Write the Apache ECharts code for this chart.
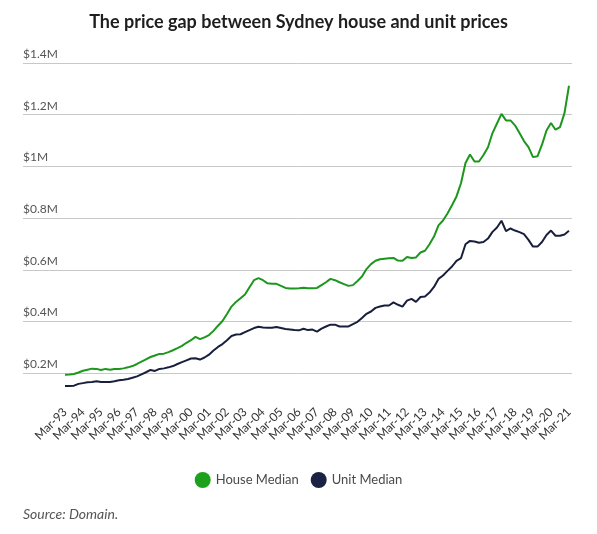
<!DOCTYPE html>
<html>
<head>
<meta charset="utf-8">
<script src="https://cdn.jsdelivr.net/npm/echarts@6/dist/echarts.min.js"></script>
<style>
html,body{margin:0;padding:0;background:#fff;}
#chart{width:597px;height:534px;}
</style>
</head>
<body>
<div id="chart"></div>
<script>
// Year tick labels (one per March quarter, Mar-93 .. Mar-21)
var xTickLabels = ['Mar-93','Mar-94','Mar-95','Mar-96','Mar-97','Mar-98','Mar-99','Mar-00','Mar-01','Mar-02','Mar-03','Mar-04','Mar-05','Mar-06','Mar-07','Mar-08','Mar-09','Mar-10','Mar-11','Mar-12','Mar-13','Mar-14','Mar-15','Mar-16','Mar-17','Mar-18','Mar-19','Mar-20','Mar-21'];

// Quarterly medians in $ millions, Mar-93 .. Mar-21
var houseMedian = [
0.194,0.195,0.197,0.203,0.210,0.214,0.218,0.217,0.213,0.217,0.214,0.217,0.217,0.219,0.223,0.228,
0.236,0.245,0.254,0.263,0.269,0.275,0.276,0.282,0.289,0.297,0.306,0.318,0.328,0.341,0.332,0.339,
0.348,0.364,0.384,0.402,0.429,0.458,0.476,0.490,0.505,0.533,0.560,0.568,0.560,0.548,0.546,0.546,
0.538,0.530,0.528,0.528,0.529,0.531,0.529,0.529,0.530,0.541,0.552,0.565,0.560,0.552,0.545,0.538,
0.541,0.557,0.574,0.603,0.622,0.635,0.641,0.643,0.645,0.646,0.636,0.635,0.650,0.646,0.648,0.667,
0.674,0.699,0.729,0.772,0.791,0.818,0.850,0.884,0.935,1.013,1.046,1.019,1.019,1.044,1.074,1.129,
1.166,1.203,1.178,1.178,1.159,1.129,1.098,1.075,1.036,1.039,1.084,1.139,1.168,1.142,1.152,1.206,
1.312];
var unitMedian = [
0.151,0.151,0.152,0.159,0.162,0.165,0.166,0.169,0.166,0.166,0.166,0.169,0.173,0.175,0.178,0.183,
0.188,0.196,0.204,0.213,0.209,0.217,0.219,0.223,0.228,0.236,0.243,0.250,0.257,0.258,0.253,0.261,
0.272,0.288,0.302,0.313,0.328,0.344,0.350,0.351,0.359,0.367,0.375,0.380,0.377,0.376,0.376,0.379,
0.375,0.371,0.369,0.367,0.366,0.372,0.367,0.369,0.361,0.373,0.381,0.388,0.388,0.381,0.381,0.381,
0.390,0.399,0.414,0.430,0.439,0.453,0.458,0.462,0.462,0.474,0.465,0.458,0.481,0.488,0.476,0.495,
0.497,0.512,0.534,0.565,0.578,0.596,0.613,0.635,0.645,0.699,0.712,0.710,0.705,0.708,0.721,0.747,
0.764,0.790,0.750,0.760,0.752,0.746,0.738,0.716,0.690,0.690,0.708,0.735,0.752,0.732,0.732,0.737,
0.751];

var seriesNames = ['House Median','Unit Median'];
var FONT = 'Lato, "Noto Sans", sans-serif';

function pairs(arr){ return arr.map(function(v,i){ return [i, v]; }); }
var tickIdx = xTickLabels.map(function(_, k){ return k*4; });

var chart = echarts.init(document.getElementById('chart'), null, {renderer:'canvas'});
chart.setOption({
  animation:false,
  backgroundColor:'#fff',
  textStyle:{fontFamily:FONT},
  title:{
    text:'The price gap between Sydney house and unit prices',
    left:'center', top:8,
    textStyle:{fontFamily:FONT, fontSize:18, fontWeight:'bold', color:'#1e1e1e'}
  },
  legend:{
    data:seriesNames,
    left:'center', top:467,
    icon:'circle', itemWidth:16, itemHeight:16, itemGap:12,
    textStyle:{fontFamily:FONT, fontSize:13, color:'#4a4a4a'}
  },
  graphic:[{
    type:'text', left:23, top:507,
    style:{text:'Source: Domain.', fontFamily:FONT, fontSize:14, fontStyle:'italic', fill:'#555'}
  }],
  grid:{left:23, right:25, top:63, bottom:109, containLabel:false},
  xAxis:{
    type:'value', min:-9.33, max:112.67,
    axisLine:{show:false}, axisTick:{show:false}, splitLine:{show:false},
    axisLabel:{
      customValues:tickIdx, rotate:45, margin:-15,
      fontFamily:FONT, fontSize:12, color:'#333',
      formatter:function(v){ return xTickLabels[Math.round(v/4)] || ''; }
    }
  },
  yAxis:{
    type:'value', min:0, max:1.4, interval:0.2,
    axisLine:{show:false}, axisTick:{show:false},
    splitLine:{show:true, showMinLine:false, lineStyle:{color:'#c8c8c8', width:1}},
    axisLabel:{
      inside:true, showMinLabel:false, margin:0, align:'left', verticalAlign:'bottom',
      padding:[0,0,3,0],
      fontFamily:FONT, fontSize:12, color:'#555',
      formatter:function(v){ return '$' + (Math.round(v*10)/10) + 'M'; }
    }
  },
  series:[
    {name:seriesNames[0], type:'line', data:pairs(houseMedian), showSymbol:false, symbol:'circle',
     lineStyle:{width:2, color:'#1c961c'}, itemStyle:{color:'#1ba11b'}},
    {name:seriesNames[1], type:'line', data:pairs(unitMedian), showSymbol:false, symbol:'circle',
     lineStyle:{width:2, color:'#181f3c'}, itemStyle:{color:'#1b2345'}}
  ]
});
</script>
</body>
</html>
